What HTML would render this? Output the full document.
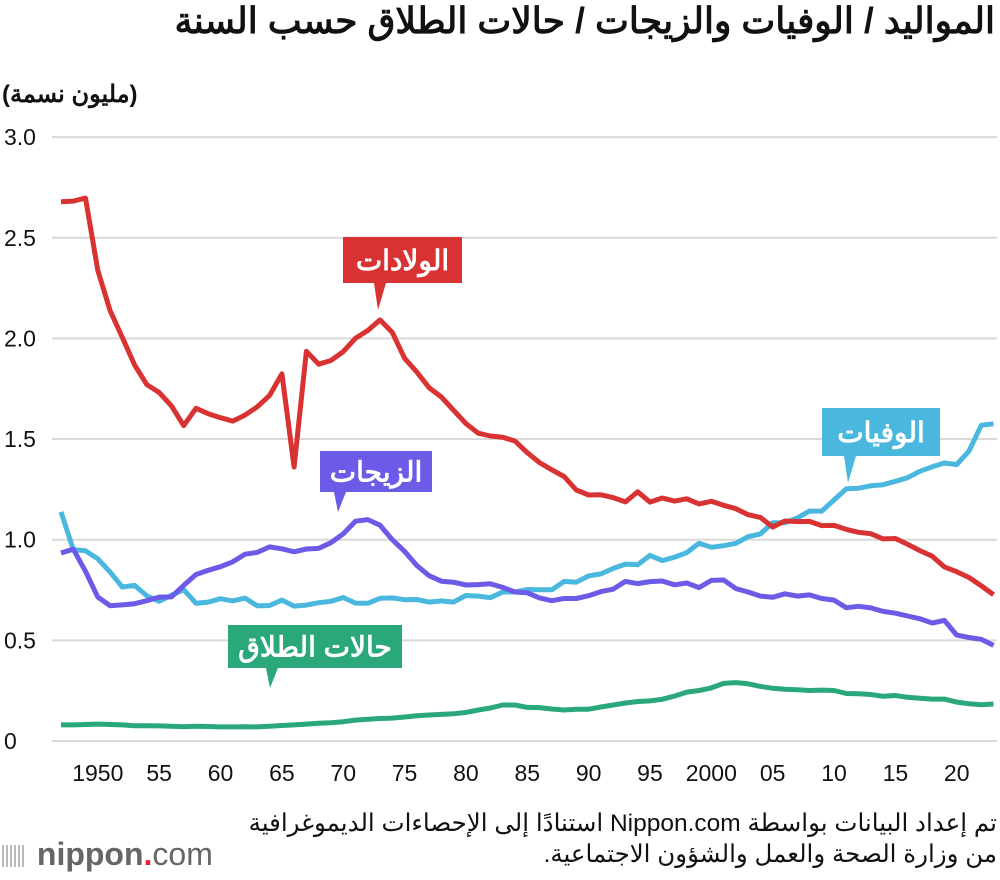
<!DOCTYPE html>
<html><head><meta charset="utf-8">
<style>
body{margin:0;background:#fff;width:1000px;height:880px;overflow:hidden;position:relative;font-family:"Liberation Sans","Noto Sans CJK SC",sans-serif;}
.t{position:absolute;white-space:nowrap;}
</style></head>
<body>
<svg id="chart" width="1000" height="880" style="position:absolute;left:0;top:0"></svg>
<div class="t" dir="rtl" style="right:5px;top:0px;font-size:36px;font-weight:bold;color:#111;">المواليد / الوفيات والزيجات / حالات الطلاق حسب السنة</div>
<div class="t" dir="rtl" style="left:2px;top:80px;font-size:24px;font-weight:bold;color:#111;">(مليون نسمة)</div>
<div class="t" dir="rtl" style="right:3px;top:808px;font-size:24.5px;line-height:31px;color:#111;text-align:right;">تم إعداد البيانات بواسطة Nippon.com استنادًا إلى الإحصاءات الديموغرافية<br>من وزارة الصحة والعمل والشؤون الاجتماعية.</div>
<div class="t" style="left:2px;top:836px;font-size:32px;color:#666;">
<span style="display:inline-block;width:22px;height:22px;vertical-align:-2px;background:repeating-linear-gradient(90deg,#999 0 2px,transparent 2px 4px);opacity:.7"></span>
<span style="font-weight:bold;margin-left:4px;">nippon</span><span style="color:#e8202a;font-weight:bold;">.</span><span>com</span></div>
<script>
const years=[];for(let y=1947;y<=2023;y++)years.push(y);
const births=[2.679,2.682,2.697,2.338,2.138,2.005,1.868,1.770,1.731,1.665,1.567,1.653,1.626,1.606,1.589,1.619,1.660,1.717,1.824,1.361,1.936,1.872,1.890,1.934,2.001,2.039,2.092,2.030,1.901,1.833,1.755,1.709,1.643,1.577,1.529,1.515,1.509,1.490,1.432,1.383,1.347,1.314,1.247,1.222,1.223,1.209,1.188,1.238,1.187,1.207,1.192,1.203,1.178,1.191,1.171,1.154,1.124,1.111,1.063,1.093,1.090,1.091,1.070,1.071,1.051,1.037,1.030,1.004,1.006,0.977,0.946,0.918,0.865,0.841,0.812,0.771,0.727];
const deaths=[1.138,0.951,0.945,0.905,0.839,0.765,0.773,0.721,0.694,0.724,0.752,0.684,0.690,0.707,0.696,0.710,0.671,0.673,0.700,0.670,0.675,0.687,0.694,0.713,0.685,0.684,0.709,0.711,0.702,0.703,0.690,0.696,0.690,0.723,0.720,0.712,0.740,0.740,0.752,0.751,0.751,0.793,0.789,0.820,0.830,0.857,0.879,0.876,0.922,0.896,0.913,0.936,0.982,0.962,0.970,0.982,1.015,1.029,1.084,1.084,1.108,1.142,1.142,1.197,1.253,1.256,1.268,1.273,1.290,1.308,1.340,1.362,1.381,1.373,1.440,1.569,1.576];
const marriages=[0.934,0.953,0.843,0.715,0.672,0.676,0.682,0.697,0.715,0.716,0.773,0.827,0.848,0.866,0.890,0.928,0.937,0.964,0.955,0.940,0.954,0.957,0.985,1.029,1.092,1.100,1.072,1.000,0.942,0.872,0.821,0.794,0.789,0.775,0.777,0.781,0.763,0.740,0.736,0.711,0.697,0.708,0.708,0.722,0.742,0.754,0.793,0.782,0.792,0.795,0.776,0.785,0.762,0.798,0.800,0.757,0.740,0.720,0.714,0.731,0.720,0.726,0.708,0.700,0.662,0.669,0.661,0.644,0.635,0.621,0.607,0.586,0.599,0.526,0.514,0.505,0.475];
const divorces=[0.080,0.080,0.082,0.084,0.082,0.080,0.076,0.076,0.075,0.073,0.071,0.073,0.072,0.070,0.070,0.071,0.070,0.073,0.077,0.080,0.084,0.088,0.091,0.096,0.104,0.108,0.112,0.114,0.119,0.125,0.129,0.132,0.135,0.142,0.154,0.164,0.179,0.179,0.167,0.166,0.159,0.154,0.158,0.158,0.169,0.179,0.189,0.196,0.199,0.207,0.223,0.243,0.251,0.264,0.286,0.290,0.284,0.271,0.262,0.257,0.255,0.251,0.253,0.251,0.236,0.235,0.231,0.222,0.226,0.217,0.212,0.208,0.208,0.193,0.185,0.180,0.184];
const yTicks=[0,0.5,1.0,1.5,2.0,2.5,3.0];
const yTickLabels=["0","0.5","1.0","1.5","2.0","2.5","3.0"];
const xTicks=[1950,1955,1960,1965,1970,1975,1980,1985,1990,1995,2000,2005,2010,2015,2020];
const xTickLabels=["1950","55","60","65","70","75","80","85","90","95","2000","05","10","15","20"];
const X=y=>61+(y-1947)*12.27;
const Y=v=>741-v*201.3;
const svg=document.getElementById('chart');const NS='http://www.w3.org/2000/svg';
function mk(t,a){const e=document.createElementNS(NS,t);for(const k in a)e.setAttribute(k,a[k]);svg.appendChild(e);return e;}
yTicks.forEach((v,i)=>{
const g=mk('line',{x1:52,x2:997,y1:Y(v),y2:Y(v),stroke:'#d9d9d9','stroke-width':2});


const t=mk('text',{x:4,y:Y(v)+8,'font-size':23,fill:'#111','font-family':'Liberation Sans, sans-serif'});t.textContent=yTickLabels[i];

});
xTicks.forEach((v,i)=>{const t=mk('text',{x:X(v),y:781,'font-size':23,fill:'#111','text-anchor':'middle','font-family':'Liberation Sans, sans-serif'});t.textContent=xTickLabels[i];

});
function line(arr,col,name){const d=arr.map((v,i)=>(i?'L':'M')+X(years[i]).toFixed(1)+','+Y(v).toFixed(1)).join('');
const p=mk('path',{d:d,fill:'none',stroke:col,'stroke-width':5,'stroke-linejoin':'round'});

}
line(divorces,'#2aa87a','divorces-line');
line(deaths,'#4ab8de','deaths-line');
line(marriages,'#6b5be6','marriages-line');
line(births,'#d93232','births-line');
function callout(x,y,w,h,px,py,col,txt,name){
const g=mk('path',{d:`M${x},${y}h${w}v${h}H${px+8}L${px},${py}L${px-4},${y+h}H${x}Z`,fill:col});


const t=mk('text',{x:x+w/2,y:y+h/2+10,'font-size':28,'font-weight':'bold',fill:'#fff','text-anchor':'middle','font-family':'Liberation Sans, Noto Sans CJK SC, sans-serif',direction:'rtl'});t.textContent=txt;

}
callout(343,237,119,46,378,310,'#d93232','الولادات','births-label');
callout(320,451,112,41,338,512,'#6b5be6','الزيجات','marriages-label');
callout(822,408,118,48,848,483,'#4ab8de','الوفيات','deaths-label');
callout(228,625,174,43,270,688,'#2aa87a','حالات الطلاق','divorces-label');
</script>
</body></html>
